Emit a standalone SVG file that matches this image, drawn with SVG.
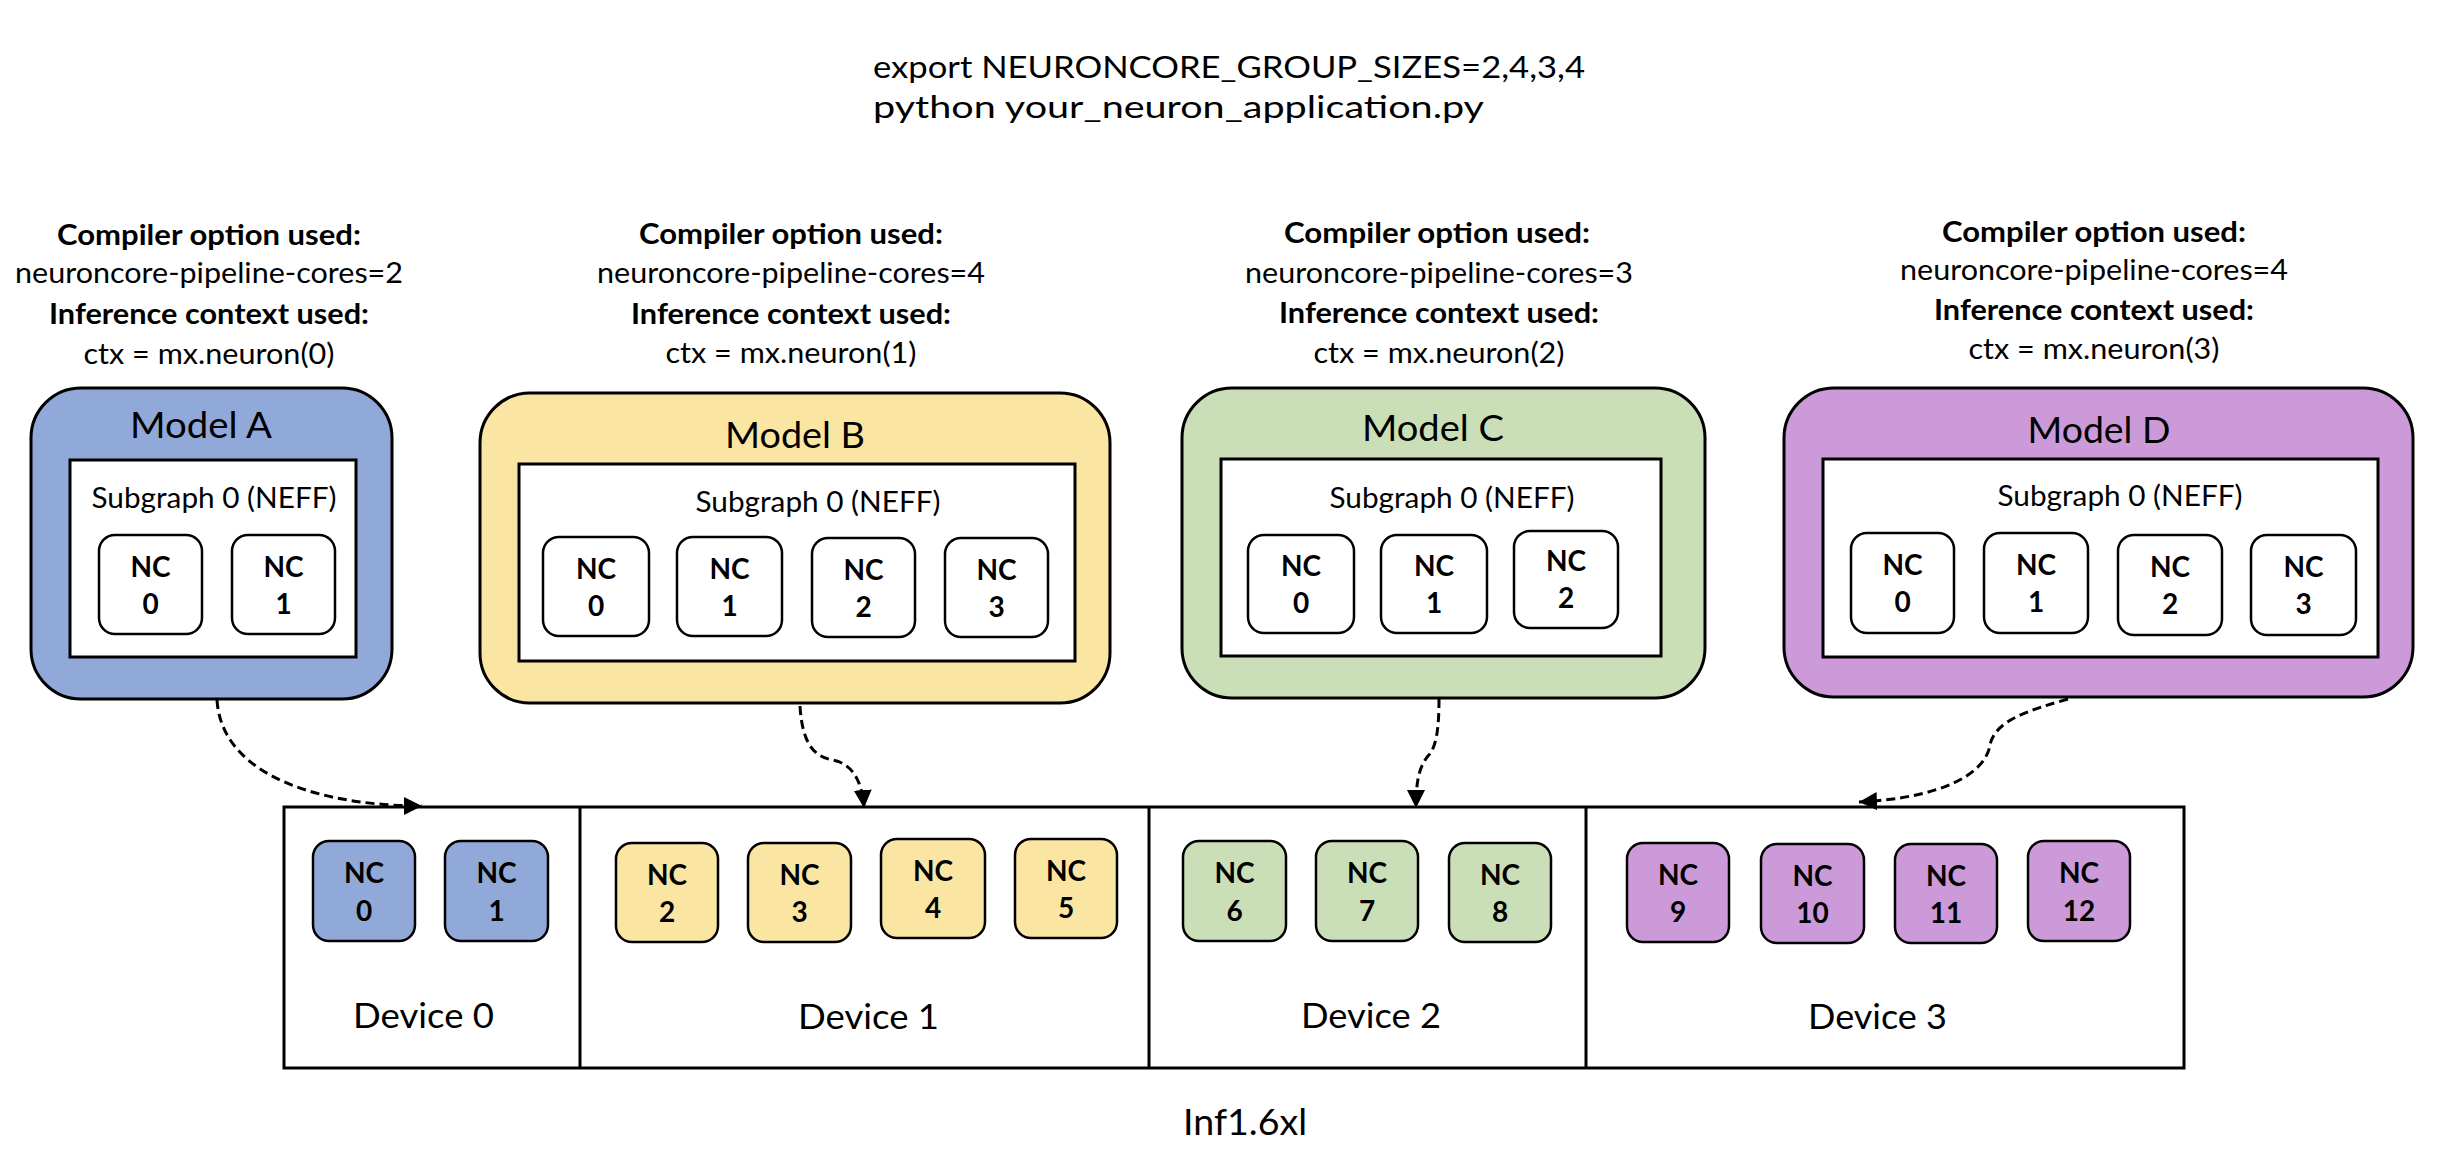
<svg xmlns="http://www.w3.org/2000/svg" width="2442" height="1162" viewBox="0 0 2442 1162">
<defs>
<style>
text{font-family:Lato,"Liberation Sans",sans-serif;fill:#000}
.hd{font-size:30px}
.lb{font-size:28px}
.lbb{font-size:28px;font-weight:bold}
.ttl{font-size:37px}
.sg{font-size:29px}
.nc{font-size:28px;font-weight:bold}
.dv{font-size:35px}
.mbox{stroke:#000;stroke-width:3}
.inner{fill:#fff;stroke:#000;stroke-width:3}
.ncb{stroke:#000;stroke-width:2.5}
.w{fill:#fff}
.blue{fill:#91A9D8}
.yellow{fill:#FBE5A2}
.green{fill:#CADFB8}
.purple{fill:#CD9AD9}
.conn{fill:none;stroke:#000;stroke-width:3;stroke-dasharray:9 5}
</style>
<marker id="arr" markerUnits="userSpaceOnUse" markerWidth="20" markerHeight="18" refX="18" refY="9" orient="auto">
<path d="M0,0 L18,9 L0,18 Z" fill="#000"/>
</marker>
</defs>
<rect width="2442" height="1162" fill="#fff"/>

<g id="header">
<text class="hd" x="873" y="78" textLength="712" lengthAdjust="spacingAndGlyphs">export NEURONCORE_GROUP_SIZES=2,4,3,4</text>
<text class="hd" x="873" y="118" textLength="611" lengthAdjust="spacingAndGlyphs">python your_neuron_application.py</text>
</g>

<g id="labelA" text-anchor="middle">
<text class="lbb" x="209" y="245" textLength="304" lengthAdjust="spacingAndGlyphs">Compiler option used:</text>
<text class="lb" x="209" y="283" textLength="388" lengthAdjust="spacingAndGlyphs">neuroncore-pipeline-cores=2</text>
<text class="lbb" x="209" y="324" textLength="320" lengthAdjust="spacingAndGlyphs">Inference context used:</text>
<text class="lb" x="209" y="364" textLength="251" lengthAdjust="spacingAndGlyphs">ctx = mx.neuron(0)</text>
</g>
<g id="labelB" text-anchor="middle">
<text class="lbb" x="791" y="244" textLength="304" lengthAdjust="spacingAndGlyphs">Compiler option used:</text>
<text class="lb" x="791" y="283" textLength="388" lengthAdjust="spacingAndGlyphs">neuroncore-pipeline-cores=4</text>
<text class="lbb" x="791" y="324" textLength="320" lengthAdjust="spacingAndGlyphs">Inference context used:</text>
<text class="lb" x="791" y="363" textLength="251" lengthAdjust="spacingAndGlyphs">ctx = mx.neuron(1)</text>
</g>
<g id="labelC" text-anchor="middle">
<text class="lbb" x="1437" y="243" textLength="306" lengthAdjust="spacingAndGlyphs">Compiler option used:</text>
<text class="lb" x="1439" y="283" textLength="388" lengthAdjust="spacingAndGlyphs">neuroncore-pipeline-cores=3</text>
<text class="lbb" x="1439" y="323" textLength="320" lengthAdjust="spacingAndGlyphs">Inference context used:</text>
<text class="lb" x="1439" y="363" textLength="251" lengthAdjust="spacingAndGlyphs">ctx = mx.neuron(2)</text>
</g>
<g id="labelD" text-anchor="middle">
<text class="lbb" x="2094" y="242" textLength="304" lengthAdjust="spacingAndGlyphs">Compiler option used:</text>
<text class="lb" x="2094" y="280" textLength="388" lengthAdjust="spacingAndGlyphs">neuroncore-pipeline-cores=4</text>
<text class="lbb" x="2094" y="320" textLength="320" lengthAdjust="spacingAndGlyphs">Inference context used:</text>
<text class="lb" x="2094" y="359" textLength="251" lengthAdjust="spacingAndGlyphs">ctx = mx.neuron(3)</text>
</g>

<g id="modelA">
<rect class="mbox blue" x="31" y="388" width="361" height="311" rx="50"/>
<text class="ttl" x="201" y="438" text-anchor="middle" textLength="142" lengthAdjust="spacingAndGlyphs">Model A</text>
<rect class="inner" x="70" y="460" width="286" height="197"/>
<text class="sg" x="214" y="508" text-anchor="middle" textLength="245" lengthAdjust="spacingAndGlyphs">Subgraph 0 (NEFF)</text>
<g text-anchor="middle">
<rect class="ncb w" x="99" y="535" width="103" height="99" rx="16"/><text class="nc" x="150.5" y="577">NC</text><text class="nc" x="150.5" y="614">0</text>
<rect class="ncb w" x="232" y="535" width="103" height="99" rx="16"/><text class="nc" x="283.5" y="577">NC</text><text class="nc" x="283.5" y="614">1</text>
</g>
</g>

<g id="modelB">
<rect class="mbox yellow" x="480" y="393" width="630" height="310" rx="50"/>
<text class="ttl" x="795" y="448" text-anchor="middle" textLength="140" lengthAdjust="spacingAndGlyphs">Model B</text>
<rect class="inner" x="519" y="464" width="556" height="197"/>
<text class="sg" x="818" y="512" text-anchor="middle" textLength="245" lengthAdjust="spacingAndGlyphs">Subgraph 0 (NEFF)</text>
<g text-anchor="middle">
<rect class="ncb w" x="543" y="537" width="106" height="99" rx="16"/><text class="nc" x="596" y="579">NC</text><text class="nc" x="596" y="616">0</text>
<rect class="ncb w" x="677" y="537" width="105" height="99" rx="16"/><text class="nc" x="729.5" y="579">NC</text><text class="nc" x="729.5" y="616">1</text>
<rect class="ncb w" x="812" y="538" width="103" height="99" rx="16"/><text class="nc" x="863.5" y="580">NC</text><text class="nc" x="863.5" y="617">2</text>
<rect class="ncb w" x="945" y="538" width="103" height="99" rx="16"/><text class="nc" x="996.5" y="580">NC</text><text class="nc" x="996.5" y="617">3</text>
</g>
</g>

<g id="modelC">
<rect class="mbox green" x="1182" y="388" width="523" height="310" rx="50"/>
<text class="ttl" x="1433" y="441" text-anchor="middle" textLength="142" lengthAdjust="spacingAndGlyphs">Model C</text>
<rect class="inner" x="1221" y="459" width="440" height="197"/>
<text class="sg" x="1452" y="508" text-anchor="middle" textLength="245" lengthAdjust="spacingAndGlyphs">Subgraph 0 (NEFF)</text>
<g text-anchor="middle">
<rect class="ncb w" x="1248" y="535" width="106" height="98" rx="16"/><text class="nc" x="1301" y="576">NC</text><text class="nc" x="1301" y="613">0</text>
<rect class="ncb w" x="1381" y="535" width="106" height="98" rx="16"/><text class="nc" x="1434" y="576">NC</text><text class="nc" x="1434" y="613">1</text>
<rect class="ncb w" x="1514" y="531" width="104" height="97" rx="16"/><text class="nc" x="1566" y="571">NC</text><text class="nc" x="1566" y="608">2</text>
</g>
</g>

<g id="modelD">
<rect class="mbox purple" x="1784" y="388" width="629" height="309" rx="50"/>
<text class="ttl" x="2099" y="443" text-anchor="middle" textLength="143" lengthAdjust="spacingAndGlyphs">Model D</text>
<rect class="inner" x="1823" y="459" width="555" height="198"/>
<text class="sg" x="2120" y="506" text-anchor="middle" textLength="245" lengthAdjust="spacingAndGlyphs">Subgraph 0 (NEFF)</text>
<g text-anchor="middle">
<rect class="ncb w" x="1851" y="533" width="103" height="100" rx="16"/><text class="nc" x="1902.5" y="575">NC</text><text class="nc" x="1902.5" y="612">0</text>
<rect class="ncb w" x="1984" y="533" width="104" height="100" rx="16"/><text class="nc" x="2036" y="575">NC</text><text class="nc" x="2036" y="612">1</text>
<rect class="ncb w" x="2118" y="535" width="104" height="100" rx="16"/><text class="nc" x="2170" y="577">NC</text><text class="nc" x="2170" y="614">2</text>
<rect class="ncb w" x="2251" y="535" width="105" height="100" rx="16"/><text class="nc" x="2303.5" y="577">NC</text><text class="nc" x="2303.5" y="614">3</text>
</g>
</g>

<g id="instance">
<rect x="284" y="807" width="1900" height="261" fill="#fff" stroke="#000" stroke-width="3"/>
<line x1="580" y1="807" x2="580" y2="1068" stroke="#000" stroke-width="3"/>
<line x1="1149" y1="807" x2="1149" y2="1068" stroke="#000" stroke-width="3"/>
<line x1="1586" y1="807" x2="1586" y2="1068" stroke="#000" stroke-width="3"/>
<text class="dv" x="1245" y="1135" text-anchor="middle" textLength="124" lengthAdjust="spacingAndGlyphs" style="font-size:37px">Inf1.6xl</text>
</g>

<g id="device0" text-anchor="middle">
<rect class="ncb blue" x="313" y="841" width="102" height="100" rx="16"/><text class="nc" x="364" y="883">NC</text><text class="nc" x="364" y="921">0</text>
<rect class="ncb blue" x="445" y="841" width="103" height="100" rx="16"/><text class="nc" x="496.5" y="883">NC</text><text class="nc" x="496.5" y="921">1</text>
<text class="dv" x="423.5" y="1028" textLength="141" lengthAdjust="spacingAndGlyphs">Device 0</text>
</g>
<g id="device1" text-anchor="middle">
<rect class="ncb yellow" x="616" y="843" width="102" height="99" rx="16"/><text class="nc" x="667" y="885">NC</text><text class="nc" x="667" y="922">2</text>
<rect class="ncb yellow" x="748" y="843" width="103" height="99" rx="16"/><text class="nc" x="799.5" y="885">NC</text><text class="nc" x="799.5" y="922">3</text>
<rect class="ncb yellow" x="881" y="839" width="104" height="99" rx="16"/><text class="nc" x="933" y="881">NC</text><text class="nc" x="933" y="918">4</text>
<rect class="ncb yellow" x="1015" y="839" width="102" height="99" rx="16"/><text class="nc" x="1066" y="881">NC</text><text class="nc" x="1066" y="918">5</text>
<text class="dv" x="868.5" y="1029" textLength="141" lengthAdjust="spacingAndGlyphs">Device 1</text>
</g>
<g id="device2" text-anchor="middle">
<rect class="ncb green" x="1183" y="841" width="103" height="100" rx="16"/><text class="nc" x="1234.5" y="883">NC</text><text class="nc" x="1234.5" y="921">6</text>
<rect class="ncb green" x="1316" y="841" width="102" height="100" rx="16"/><text class="nc" x="1367" y="883">NC</text><text class="nc" x="1367" y="921">7</text>
<rect class="ncb green" x="1449" y="843" width="102" height="99" rx="16"/><text class="nc" x="1500" y="885">NC</text><text class="nc" x="1500" y="922">8</text>
<text class="dv" x="1371" y="1028" textLength="140" lengthAdjust="spacingAndGlyphs">Device 2</text>
</g>
<g id="device3" text-anchor="middle">
<rect class="ncb purple" x="1627" y="843" width="102" height="99" rx="16"/><text class="nc" x="1678" y="885">NC</text><text class="nc" x="1678" y="922">9</text>
<rect class="ncb purple" x="1761" y="844" width="103" height="99" rx="16"/><text class="nc" x="1812.5" y="886">NC</text><text class="nc" x="1812.5" y="923">10</text>
<rect class="ncb purple" x="1895" y="844" width="102" height="99" rx="16"/><text class="nc" x="1946" y="886">NC</text><text class="nc" x="1946" y="923">11</text>
<rect class="ncb purple" x="2028" y="841" width="102" height="100" rx="16"/><text class="nc" x="2079" y="883">NC</text><text class="nc" x="2079" y="921">12</text>
<text class="dv" x="1877.5" y="1029" textLength="139" lengthAdjust="spacingAndGlyphs">Device 3</text>
</g>

<g id="connectors">
<path class="conn" d="M217,700 C222,780 330,806 422,806" marker-end="url(#arr)"/>
<path class="conn" d="M800,706 C802,740 812,757 833,760 C852,764 862,780 864,808" marker-end="url(#arr)"/>
<path class="conn" d="M1439,699 C1439,730 1436,748 1428,756 C1418,768 1416,785 1416,808" marker-end="url(#arr)"/>
<path class="conn" d="M2068,699 C2030,710 1995,720 1990,745 C1985,775 1940,798 1859,802" marker-end="url(#arr)"/>
</g>
</svg>
